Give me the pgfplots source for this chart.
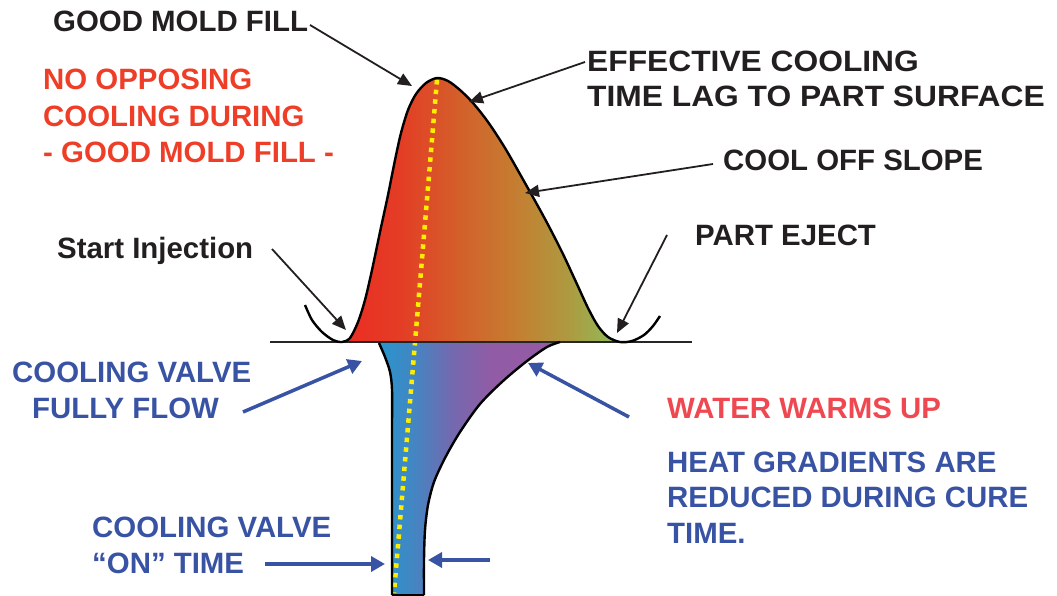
\documentclass[border=0pt]{standalone}
\usepackage{pgfplots}
\pgfplotsset{compat=1.18}
\usepackage{fontspec}
\setmainfont{Liberation Sans}
\usetikzlibrary{arrows.meta}
\definecolor{txtblack}{RGB}{35,31,32}
\definecolor{txtred}{RGB}{238,62,40}
\definecolor{txtpink}{RGB}{239,72,80}
\definecolor{txtblue}{RGB}{57,83,164}
\definecolor{dotyellow}{RGB}{255,238,0}
\pgfdeclarehorizontalshading{uppershade}{100bp}{%
 rgb(0bp)=(0.922,0.176,0.137);
 rgb(25bp)=(0.922,0.176,0.137);
 rgb(35bp)=(0.894,0.235,0.145);
 rgb(46bp)=(0.831,0.373,0.165);
 rgb(57bp)=(0.765,0.502,0.196);
 rgb(66bp)=(0.675,0.608,0.255);
 rgb(75bp)=(0.557,0.745,0.361);
 rgb(100bp)=(0.557,0.745,0.361)}
\pgfdeclarehorizontalshading{lowershade}{100bp}{%
 rgb(0bp)=(0.157,0.580,0.804);
 rgb(25bp)=(0.157,0.580,0.804);
 rgb(34bp)=(0.255,0.529,0.765);
 rgb(45bp)=(0.451,0.412,0.686);
 rgb(56bp)=(0.569,0.361,0.647);
 rgb(75bp)=(0.588,0.353,0.647);
 rgb(100bp)=(0.588,0.353,0.647)}
\newcommand{\fs}{\fontsize{29.4}{35}\selectfont\bfseries}
\begin{document}
\begin{tikzpicture}
\begin{axis}[
  width=1057pt, height=596pt, scale only axis,
  xmin=0, xmax=1057, ymin=0, ymax=596,
  y dir=reverse,
  hide axis,
]
% upper filled area
\addplot[shade, shading=uppershade, draw=none, smooth] coordinates {
 (342,342)(350,338)(358,322)(365,300)(372,270)(380,232)(388,195)(395,160)(401,133)(408,110)(416,94)(426,83)(437,78)(448,81)(460,90)(473,103)(488,122)(505,148)(525,183)(545,219)(562,252)(576,282)(588,308)(598,326)(608,337)(620,342)
} -- cycle;
% lower filled area
\addplot[shade, shading=lowershade, draw=none, smooth] coordinates {
 (379,343)(385,357)(390,372)(392,390)(392,430)(392,500)(392,590)(392,596)(398,596)(418,596)(424,596)(424,590)(424,560)(425,530)(428,505)(434,482)(445,458)(460,432)(480,404)(503,381)(527,361)(547,347)(560,342)
} -- cycle;
% yellow dotted line
\addplot[dotyellow, line width=4.5pt, dash pattern=on 4.5pt off 5.2pt] coordinates {(437,80)(394,593)};
% baseline
\addplot[black!85, line width=2pt] coordinates {(270,342)(692,342)};
% upper outline with hooks
\addplot[black, line width=2.4pt, smooth] coordinates {
 (305,305)(312,320)(322,332)(333,340)(342,342)(350,338)(358,322)(365,300)(372,270)(380,232)(388,195)(395,160)(401,133)(408,110)(416,94)(426,83)(437,78)(448,81)(460,90)(473,103)(488,122)(505,148)(525,183)(545,219)(562,252)(576,282)(588,308)(598,326)(608,337)(620,342)(632,341)(644,335)(653,326)(660,316)
};
% lower outline
\addplot[black, line width=2.4pt, smooth] coordinates {
 (379,343)(385,357)(390,372)(392,390)(392,430)(392,500)(392,595)
};
\addplot[black, line width=2.4pt] coordinates {(392,595)(424,595)};
\addplot[black, line width=2.4pt, smooth] coordinates {
 (424,595)(424,560)(425,530)(428,505)(434,482)(445,458)(460,432)(480,404)(503,381)(527,361)(547,347)(560,342)
};
% black arrows
\draw[txtblack, line width=1.8pt, -{Triangle[length=14pt,width=12pt]}] (310,25) -- (412,86);
\draw[txtblack, line width=1.8pt, -{Triangle[length=14pt,width=12pt]}] (585,62) -- (469,102);
\draw[txtblack, line width=1.8pt, -{Triangle[length=14pt,width=12pt]}] (713,164) -- (525,193);
\draw[txtblack, line width=1.8pt, -{Triangle[length=14pt,width=12pt]}] (667,235) -- (617,333);
\draw[txtblack, line width=1.8pt, -{Triangle[length=14pt,width=12pt]}] (272,249) -- (346,330);
% blue arrows
\draw[txtblue, line width=3.5pt, -{Triangle[length=14pt,width=15pt]}] (243,412) -- (362,361);
\draw[txtblue, line width=3.5pt, -{Triangle[length=14pt,width=15pt]}] (629,417) -- (528,363);
\draw[txtblue, line width=3.5pt, -{Triangle[length=14pt,width=15pt]}] (265,564) -- (385,564);
\draw[txtblue, line width=3.5pt, -{Triangle[length=14pt,width=15pt]}] (490,560) -- (428,560);
% texts
\node[anchor=base west, inner sep=0, text=txtblack, font=\fs] at (53,32) {GOOD MOLD FILL};
\node[anchor=base west, inner sep=0, text=txtred, font=\fs] at (43,90) {NO OPPOSING};
\node[anchor=base west, inner sep=0, text=txtred, font=\fs] at (43,127) {COOLING DURING};
\node[anchor=base west, inner sep=0, text=txtred, font=\fs] at (43,163) {- GOOD MOLD FILL -};
\node[anchor=base west, inner sep=0, text=txtblack, font=\fs] at (587,72) {\scalebox{1.08}[1]{EFFECTIVE COOLING}};
\node[anchor=base west, inner sep=0, text=txtblack, font=\fs] at (587,107) {\scalebox{1.08}[1]{TIME LAG TO PART SURFACE}};
\node[anchor=base west, inner sep=0, text=txtblack, font=\fs] at (723,171) {COOL OFF SLOPE};
\node[anchor=base west, inner sep=0, text=txtblack, font=\fs] at (695,245) {PART EJECT};
\node[anchor=base west, inner sep=0, text=txtblack, font=\fs] at (57,258) {Start Injection};
\node[anchor=base west, inner sep=0, text=txtblue, font=\fs] at (12,382) {COOLING VALVE};
\node[anchor=base west, inner sep=0, text=txtblue, font=\fs] at (32,418) {FULLY FLOW};
\node[anchor=base west, inner sep=0, text=txtblue, font=\fs] at (92,537) {COOLING VALVE};
\node[anchor=base west, inner sep=0, text=txtblue, font=\fs] at (92,573) {“ON” TIME};
\node[anchor=base west, inner sep=0, text=txtpink, font=\fs] at (667,418) {WATER WARMS UP};
\node[anchor=base west, inner sep=0, text=txtblue, font=\fs] at (667,472) {HEAT GRADIENTS ARE};
\node[anchor=base west, inner sep=0, text=txtblue, font=\fs] at (667,507) {REDUCED DURING CURE};
\node[anchor=base west, inner sep=0, text=txtblue, font=\fs] at (667,543) {TIME.};
\end{axis}
\pgfresetboundingbox
\path[use as bounding box] (current axis.south west) rectangle (current axis.north east);
\end{tikzpicture}
\end{document}
